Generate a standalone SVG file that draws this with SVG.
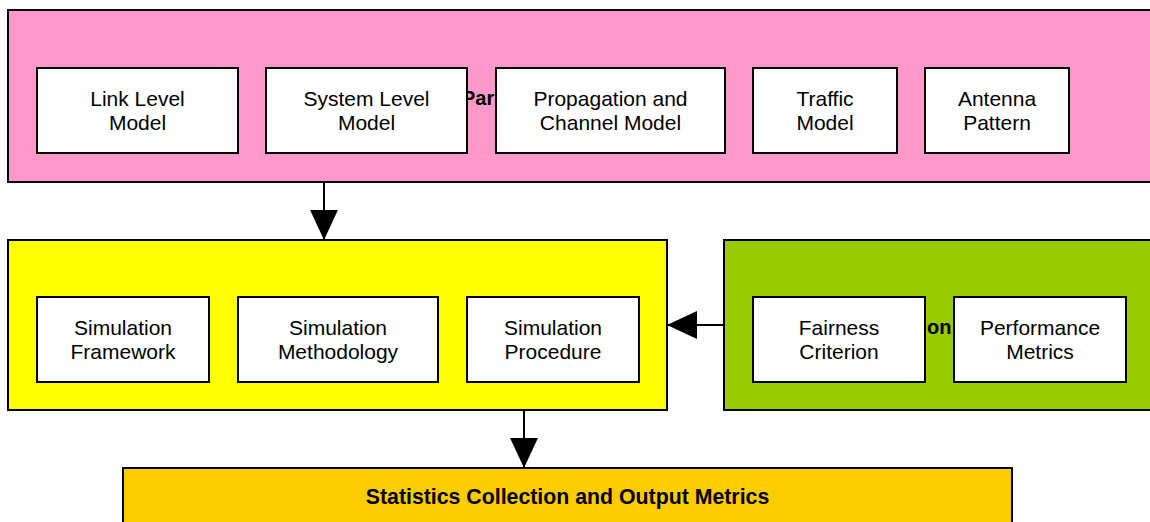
<svg xmlns="http://www.w3.org/2000/svg" width="1150" height="522" viewBox="0 0 1150 522">
  <style>
    .panel { stroke: #000; stroke-width: 2; }
    .box { fill: #fff; stroke: #000; stroke-width: 2; }
    .lbl { font-family: "Liberation Sans", Arial, sans-serif; font-size: 21px; text-anchor: middle; fill: #000; }
    .ttl { font-family: "Liberation Sans", Arial, sans-serif; font-size: 20px; font-weight: bold; fill: #000; }
    .big { font-size: 21.3px; }
    .wire { stroke: #000; stroke-width: 2; fill: none; }
  </style>
  <defs>
    <marker id="head" markerUnits="userSpaceOnUse" markerWidth="30" markerHeight="30" viewBox="0 0 28 26" refX="28" refY="13" orient="auto">
      <path d="M0,0 L28,13 L0,26 Z" fill="#000"/>
    </marker>
  </defs>
  <rect width="1150" height="522" fill="#fff"/>

  <!-- parameters panel -->
  <g id="params">
    <rect class="panel" x="8" y="10" width="1150" height="172" fill="#ff99cc"/>
    <text class="ttl" x="462" y="105">Par</text>
  </g>
  <g id="link-level">
    <rect class="box" x="37" y="68" width="201" height="85"/>
    <text class="lbl" x="137.5" y="106">Link Level</text>
    <text class="lbl" x="137.5" y="130">Model</text>
  </g>
  <g id="system-level">
    <rect class="box" x="266" y="68" width="201" height="85"/>
    <text class="lbl" x="366.5" y="106">System Level</text>
    <text class="lbl" x="366.5" y="130">Model</text>
  </g>
  <g id="propagation">
    <rect class="box" x="496" y="68" width="229" height="85"/>
    <text class="lbl" x="610.5" y="106">Propagation and</text>
    <text class="lbl" x="610.5" y="130">Channel Model</text>
  </g>
  <g id="traffic">
    <rect class="box" x="753" y="68" width="144" height="85"/>
    <text class="lbl" x="825" y="106">Traffic</text>
    <text class="lbl" x="825" y="130">Model</text>
  </g>
  <g id="antenna">
    <rect class="box" x="925" y="68" width="144" height="85"/>
    <text class="lbl" x="997" y="106">Antenna</text>
    <text class="lbl" x="997" y="130">Pattern</text>
  </g>

  <!-- simulation panel -->
  <g id="simulation">
    <rect class="panel" x="8" y="240" width="659" height="170" fill="#ffff00"/>
  </g>
  <g id="sim-framework">
    <rect class="box" x="37" y="297" width="172" height="85"/>
    <text class="lbl" x="123" y="335">Simulation</text>
    <text class="lbl" x="123" y="359">Framework</text>
  </g>
  <g id="sim-methodology">
    <rect class="box" x="238" y="297" width="200" height="85"/>
    <text class="lbl" x="338" y="335">Simulation</text>
    <text class="lbl" x="338" y="359">Methodology</text>
  </g>
  <g id="sim-procedure">
    <rect class="box" x="467" y="297" width="172" height="85"/>
    <text class="lbl" x="553" y="335">Simulation</text>
    <text class="lbl" x="553" y="359">Procedure</text>
  </g>

  <!-- evaluation panel -->
  <g id="evaluation">
    <rect class="panel" x="724" y="240" width="440" height="170" fill="#99cc00"/>
    <text class="ttl" x="927" y="334">on</text>
  </g>
  <g id="fairness">
    <rect class="box" x="753" y="297" width="172" height="85"/>
    <text class="lbl" x="839" y="335">Fairness</text>
    <text class="lbl" x="839" y="359">Criterion</text>
  </g>
  <g id="performance">
    <rect class="box" x="954" y="297" width="172" height="85"/>
    <text class="lbl" x="1040" y="335">Performance</text>
    <text class="lbl" x="1040" y="359">Metrics</text>
  </g>

  <!-- output panel -->
  <g id="statistics">
    <rect class="panel" x="123" y="468" width="889" height="70" fill="#ffcc00"/>
    <text class="ttl big" x="567.5" y="504" text-anchor="middle">Statistics Collection and Output Metrics</text>
  </g>

  <!-- connectors -->
  <g id="connectors">
    <line class="wire" x1="324" y1="182" x2="324" y2="240" marker-end="url(#head)"/>
    <line class="wire" x1="724" y1="325" x2="667" y2="325" marker-end="url(#head)"/>
    <line class="wire" x1="524" y1="410" x2="524" y2="468" marker-end="url(#head)"/>
  </g>
</svg>
